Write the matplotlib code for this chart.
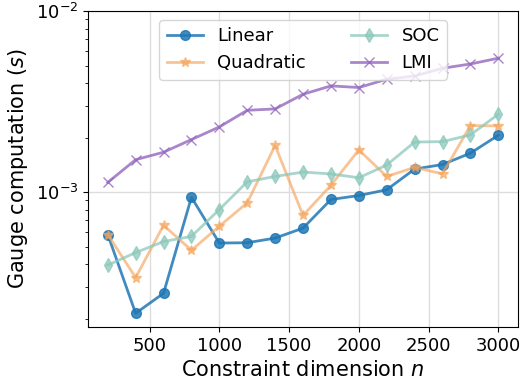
import matplotlib
matplotlib.use("Agg")
import matplotlib.pyplot as plt

# constraint dimensions
n = [200, 400, 600, 800, 1000, 1200, 1400, 1600, 1800, 2000, 2200, 2400, 2600, 2800, 3000]

# gauge computation time (s)
linear = [5.83e-4, 2.14e-4, 2.76e-4, 9.36e-4, 5.23e-4, 5.25e-4, 5.57e-4, 6.32e-4,
          9.10e-4, 9.57e-4, 1.03e-3, 1.34e-3, 1.42e-3, 1.64e-3, 2.06e-3]
quadratic = [5.83e-4, 3.37e-4, 6.56e-4, 4.77e-4, 6.48e-4, 8.72e-4, 1.81e-3, 7.43e-4,
             1.09e-3, 1.71e-3, 1.22e-3, 1.37e-3, 1.26e-3, 2.33e-3, 2.32e-3]
soc = [3.95e-4, 4.63e-4, 5.33e-4, 5.69e-4, 8.01e-4, 1.14e-3, 1.22e-3, 1.29e-3,
       1.26e-3, 1.20e-3, 1.41e-3, 1.89e-3, 1.90e-3, 2.07e-3, 2.69e-3]
lmi = [1.13e-3, 1.51e-3, 1.66e-3, 1.95e-3, 2.29e-3, 2.83e-3, 2.88e-3, 3.47e-3,
       3.86e-3, 3.78e-3, 4.20e-3, 4.38e-3, 4.83e-3, 5.10e-3, 5.49e-3]

fig, ax = plt.subplots(figsize=(5.22, 3.81), dpi=100)

ax.plot(n, linear, marker='o', markersize=7, color='#1f77b4', alpha=0.85, linewidth=2, label='Linear')
ax.plot(n, quadratic, marker='*', markersize=7, color='#f5a55c', alpha=0.65, linewidth=2, label='Quadratic')
ax.plot(n, soc, marker='d', markersize=7, color='#8cc8bb', alpha=0.75, linewidth=2, label='SOC')
ax.plot(n, lmi, marker='x', markersize=7, color='#9467bd', alpha=0.8, linewidth=2, label='LMI')

ax.set_yscale('log')
ax.set_ylim(1.8e-4, 1e-2)
ax.set_xticks([500, 1000, 1500, 2000, 2500, 3000])
ax.grid(True, color='#dddddd', linewidth=1)

ax.tick_params(labelsize=13)
ax.set_xlabel('Constraint dimension $n$', fontsize=15)
ax.set_ylabel('Gauge computation $(s)$', fontsize=15)

ax.legend(loc='upper center', ncol=2, fontsize=13, columnspacing=2.5, bbox_to_anchor=(0.5, 1.0))

plt.subplots_adjust(left=0.169, right=0.992, top=0.971, bottom=0.142)
plt.savefig('out.png')
